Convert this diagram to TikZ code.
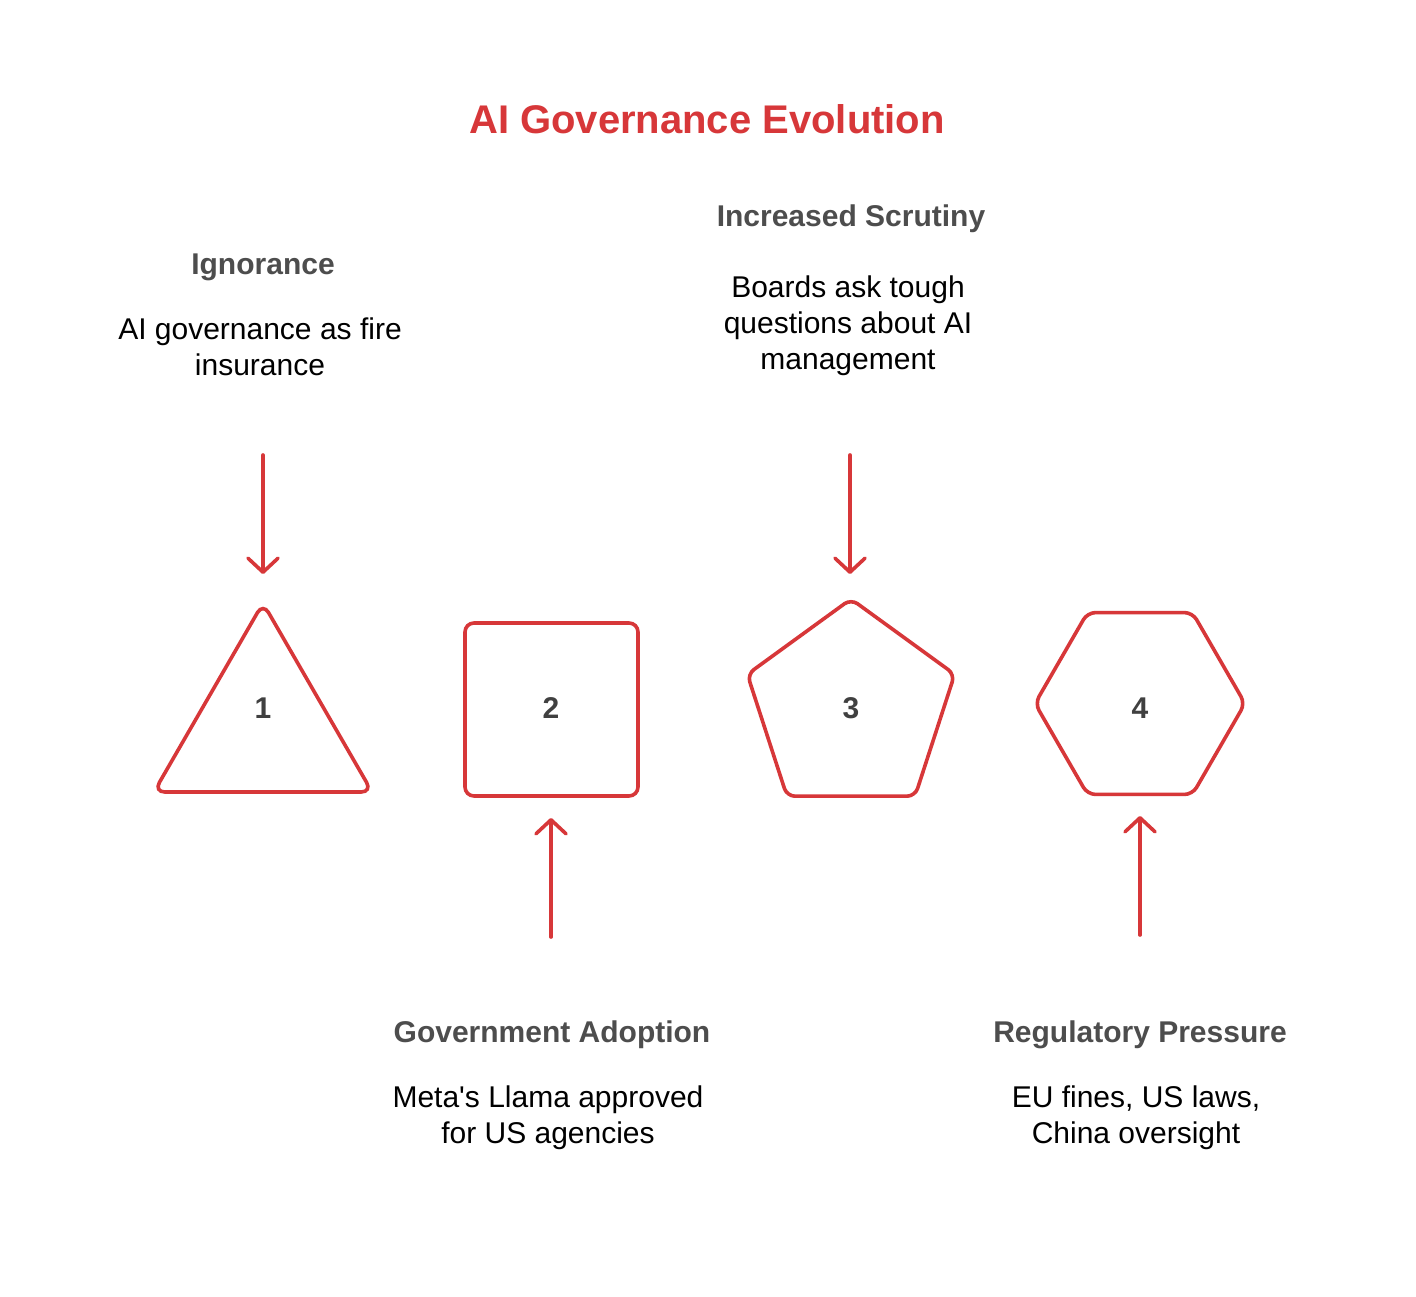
\documentclass[tikz,border=0pt]{standalone}
\usepackage{fontspec}
\setmainfont{Liberation Sans}[Ligatures=TeXOff]
\usetikzlibrary{shapes.geometric,arrows.meta}
\definecolor{cred}{RGB}{215,55,57}
\definecolor{chead}{RGB}{77,77,77}
\definecolor{cnum}{RGB}{64,64,64}
\tikzset{
  titletext/.style={anchor=base,inner sep=0pt,text=cred,font=\fontsize{40}{48}\selectfont\bfseries},
  headtext/.style={anchor=base,inner sep=0pt,text=chead,font=\fontsize{30}{36}\selectfont\bfseries},
  bodytext/.style={anchor=north,inner sep=0pt,align=center,text=black,font=\fontsize{30}{36}\selectfont},
  numtext/.style={anchor=base,inner sep=0pt,text=cnum,font=\fontsize{30}{36}\selectfont\bfseries},
  shapebox/.style={draw=cred,line width=3.6pt,inner sep=0pt,outer sep=0pt},
  conn/.style={draw=cred,line width=3.6pt,line cap=round,-{Straight Barb[length=14pt,width=30pt,line cap=round,line join=round]}}
}
\begin{document}
\begin{tikzpicture}[x=1pt,y=-1pt]
\useasboundingbox[fill=white] (0,0) rectangle (1416,1296);
\node[titletext] (title) at (707,133) {AI Governance Evolution};

% shapes
\node[shapebox,regular polygon,regular polygon sides=3,minimum size=252pt,rounded corners=11pt] (s1) at (263,729) {};
\node[shapebox,rectangle,minimum width=173pt,minimum height=173pt,rounded corners=9pt] (s2) at (551.5,709.5) {};
\node[shapebox,regular polygon,regular polygon sides=5,minimum size=218pt,rounded corners=8pt] (s3) at (851,708) {};
\node[shapebox,regular polygon,regular polygon sides=6,minimum size=210pt,rounded corners=8pt] (s4) at (1140,703.5) {};

\node[numtext] (n1) at (263,718) {1};
\node[numtext] (n2) at (551,718) {2};
\node[numtext] (n3) at (851,718) {3};
\node[numtext] (n4) at (1140,718) {4};

% labels
\node[headtext] (h1) at (263,274) {Ignorance};
\node[bodytext] (b1) at (260,318) {AI governance as fire\\insurance};
\node[headtext] (h3) at (851,226) {Increased Scrutiny};
\node[bodytext] (b3) at (848,276) {Boards ask tough\\questions about AI\\management};
\node[headtext] (h2) at (552,1042) {Government Adoption};
\node[bodytext] (b2) at (548,1086) {Meta's Llama approved\\for US agencies};
\node[headtext] (h4) at (1140,1042) {Regulatory Pressure};
\node[bodytext] (b4) at (1136,1086) {EU fines, US laws,\\China oversight};

% connectors
\coordinate (a1s) at (263,455); \coordinate (a1e) at (263,574);
\coordinate (a2s) at (551,937); \coordinate (a2e) at (551,818);
\coordinate (a3s) at (850,455); \coordinate (a3e) at (850,574);
\coordinate (a4s) at (1140,935); \coordinate (a4e) at (1140,816);
\draw[conn] (a1s) -- (a1e);
\draw[conn] (a2s) -- (a2e);
\draw[conn] (a3s) -- (a3e);
\draw[conn] (a4s) -- (a4e);
\end{tikzpicture}
\end{document}
